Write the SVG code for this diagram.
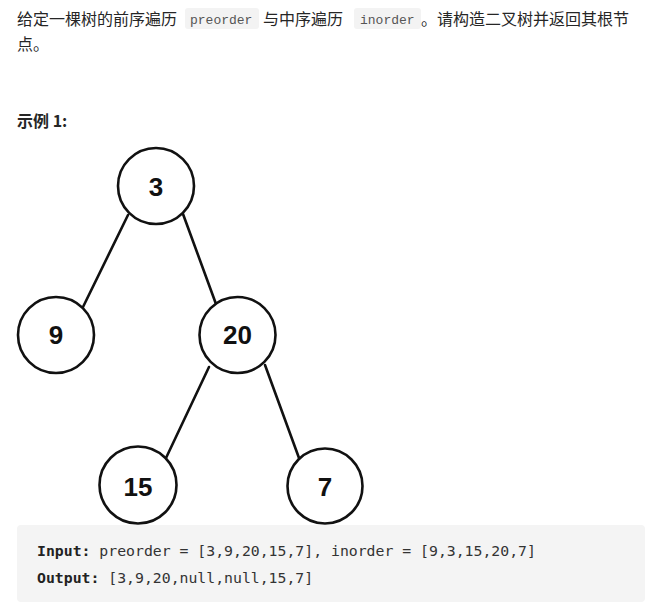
<svg xmlns="http://www.w3.org/2000/svg" width="660" height="614" viewBox="0 0 660 614">
<style>
.t{font-family:"Noto Sans CJK SC","Liberation Sans",sans-serif;font-size:16px;fill:#262626}
.c{font-family:"Liberation Mono",monospace;font-size:13px;fill:#555}
.cb{fill:#f3f3f3}
.n circle{fill:#fff;stroke:#111;stroke-width:2.6}
.n text{font-family:"Liberation Sans",Arial,sans-serif;font-weight:bold;font-size:26px;fill:#111;text-anchor:middle}
.e line{stroke:#111;stroke-width:2.6;stroke-linecap:round}
.m{font-family:"DejaVu Sans Mono","Liberation Mono",monospace;font-size:14.8px;fill:#333}
.mb{font-weight:bold;fill:#222}
</style>
<rect width="660" height="614" fill="#fff"/>
<g id="intro">
<rect class="cb" x="185" y="8" width="74" height="21" rx="3"/>
<rect class="cb" x="354" y="8" width="67" height="21" rx="3"/>
<text class="t" x="17" y="25">给定一棵树的前序遍历</text>
<text class="c" x="190" y="24">preorder</text>
<text class="t" x="263" y="25">与中序遍历</text>
<text class="c" x="360" y="24">inorder</text>
<text class="t" x="421" y="25">。请构造二叉树并返回其根节</text>
<text class="t" x="17" y="50">点。</text>
<text class="t" x="17" y="127" font-weight="bold">示例 1:</text>
</g>
<g id="edges" class="e">
<line x1="128" y1="215" x2="83" y2="307"/>
<line x1="183" y1="214" x2="216" y2="304"/>
<line x1="209" y1="367" x2="166" y2="458"/>
<line x1="265" y1="365" x2="299" y2="458"/>
</g>
<g id="n3" class="n"><circle cx="156" cy="186" r="38"/><text x="156" y="196">3</text></g>
<g id="n9" class="n"><circle cx="56" cy="335" r="38"/><text x="56" y="344">9</text></g>
<g id="n20" class="n"><circle cx="237.5" cy="335" r="38"/><text x="237.5" y="344">20</text></g>
<g id="n15" class="n"><circle cx="138" cy="485" r="38.5"/><text x="138" y="496">15</text></g>
<g id="n7" class="n"><circle cx="325" cy="486" r="37.5"/><text x="325" y="496">7</text></g>
<g id="example">
<rect x="17" y="525" width="628" height="77" rx="4" fill="#f4f4f4"/>
<text class="m" x="37" y="556"><tspan class="mb">Input:</tspan> preorder = [3,9,20,15,7], inorder = [9,3,15,20,7]</text>
<text class="m" x="37" y="583"><tspan class="mb">Output:</tspan> [3,9,20,null,null,15,7]</text>
</g>
</svg>
